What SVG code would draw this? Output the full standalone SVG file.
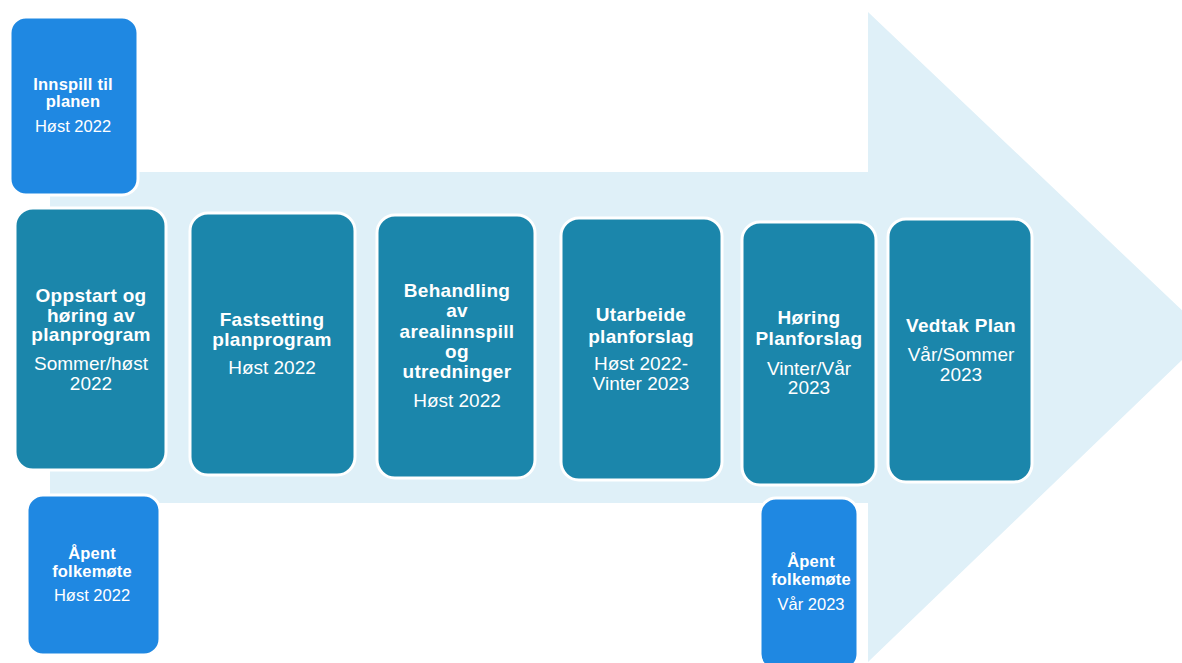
<svg xmlns="http://www.w3.org/2000/svg" width="1182" height="663" viewBox="0 0 1182 663">
  <style>
    .bg { fill: #ffffff; }
    .arrow { fill: #dff0f8; }
    .step { fill: #1b86ab; stroke: #ffffff; stroke-width: 3; }
    .event { fill: #1f88e2; stroke: #ffffff; stroke-width: 3; }
    text { font-family: "Liberation Sans", Arial, sans-serif; fill: #ffffff; text-anchor: middle; }
    .t { font-weight: bold; font-size: 19px; letter-spacing: 0.3px; }
    .d { font-size: 19px; }
    .ts { font-weight: bold; font-size: 16.5px; letter-spacing: 0.2px; }
    .ds { font-size: 16.5px; }
  </style>
  <rect class="bg" x="0" y="0" width="1182" height="663"/>

  <g id="arrow">
    <polygon class="arrow" points="50,172 868,172 868,12 1208,335 868,662 868,503 50,503"/>
  </g>

  <g id="innspill">
    <rect class="event" x="10" y="17" width="128" height="178" rx="16"/>
    <text class="ts" x="73" y="90">Innspill til</text>
    <text class="ts" x="73" y="107">planen</text>
    <text class="ds" x="73" y="132">Høst 2022</text>
  </g>

  <g id="oppstart">
    <rect class="step" x="15" y="208" width="151" height="262" rx="18"/>
    <text class="t" x="91" y="302">Oppstart og</text>
    <text class="t" x="91" y="322">høring av</text>
    <text class="t" x="91" y="341">planprogram</text>
    <text class="d" x="91" y="370">Sommer/høst</text>
    <text class="d" x="91" y="390">2022</text>
  </g>

  <g id="fastsetting">
    <rect class="step" x="190" y="213" width="165" height="262" rx="18"/>
    <text class="t" x="272" y="326">Fastsetting</text>
    <text class="t" x="272" y="346">planprogram</text>
    <text class="d" x="272" y="374">Høst 2022</text>
  </g>

  <g id="behandling">
    <rect class="step" x="377" y="215" width="158" height="263" rx="18"/>
    <text class="t" x="457" y="297">Behandling</text>
    <text class="t" x="457" y="317">av</text>
    <text class="t" x="457" y="338">arealinnspill</text>
    <text class="t" x="457" y="358">og</text>
    <text class="t" x="457" y="378">utredninger</text>
    <text class="d" x="457" y="407">Høst 2022</text>
  </g>

  <g id="utarbeide">
    <rect class="step" x="561" y="218" width="161" height="262" rx="18"/>
    <text class="t" x="641" y="321">Utarbeide</text>
    <text class="t" x="641" y="343">planforslag</text>
    <text class="d" x="641" y="370">Høst 2022-</text>
    <text class="d" x="641" y="390">Vinter 2023</text>
  </g>

  <g id="horing">
    <rect class="step" x="742" y="222" width="134" height="263" rx="18"/>
    <text class="t" x="809" y="324">Høring</text>
    <text class="t" x="809" y="345">Planforslag</text>
    <text class="d" x="809" y="375">Vinter/Vår</text>
    <text class="d" x="809" y="394">2023</text>
  </g>

  <g id="vedtak">
    <rect class="step" x="888" y="219" width="144" height="263" rx="18"/>
    <text class="t" x="961" y="332">Vedtak Plan</text>
    <text class="d" x="961" y="361">Vår/Sommer</text>
    <text class="d" x="961" y="381">2023</text>
  </g>

  <g id="folkemote-host">
    <rect class="event" x="27" y="495" width="133" height="160" rx="16"/>
    <text class="ts" x="92" y="559">Åpent</text>
    <text class="ts" x="92" y="577">folkemøte</text>
    <text class="ds" x="92" y="601">Høst 2022</text>
  </g>

  <g id="folkemote-var">
    <rect class="event" x="760" y="498" width="98" height="172" rx="16"/>
    <text class="ts" x="811" y="567">Åpent</text>
    <text class="ts" x="811" y="585">folkemøte</text>
    <text class="ds" x="811" y="610">Vår 2023</text>
  </g>

  <g id="connectors"/>
</svg>
